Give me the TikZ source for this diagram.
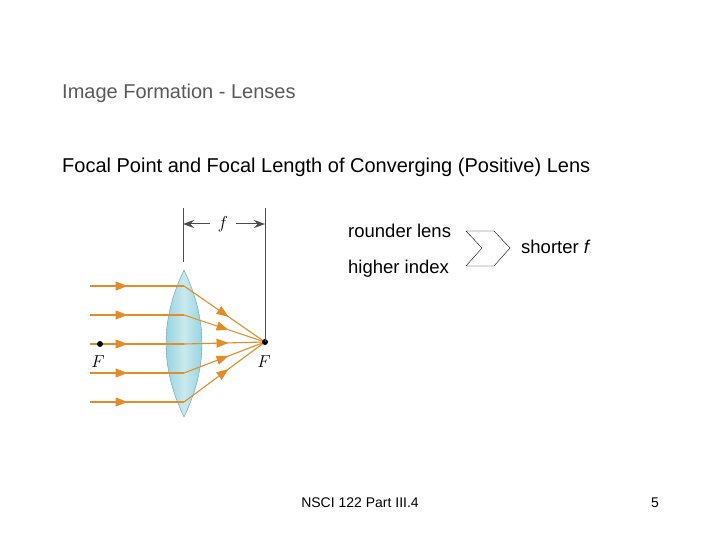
\documentclass[tikz,border=0pt]{standalone}
\usepackage{fontspec}
\setmainfont{Liberation Sans}
\usetikzlibrary{decorations.markings,arrows.meta}
\definecolor{rayorange}{RGB}{228,140,40}
\definecolor{lensblue}{RGB}{120,200,215}
\tikzset{
	ray/.style={rayorange, line width=1.1pt, postaction={decorate},
		decoration={markings, mark=at position #1 with {\arrow{Triangle[length=12pt,width=9pt]}}}},
	ray/.default=0.55,
	label/.style={inner sep=0pt, anchor=base west, font=\fontsize{20}{24}\selectfont},
	dim/.style={black!70, line width=1pt},
}
\begin{document}
\begin{tikzpicture}[x=1pt,y=-1pt]
	\useasboundingbox (0,0) rectangle (720,540);
	\node[label, text=black!65] (title) at (62,99) {Image Formation - Lenses};
	\node[label] (sub) at (62,173) {Focal Point and Focal Length of Converging (Positive) Lens};
	% lens
	\draw[lensblue!80!black, left color=lensblue!90, right color=lensblue!90, middle color=white!60!lensblue]
		(184,270) .. controls (160,320) and (160,367) .. (184,417)
		.. controls (208,367) and (208,320) .. (184,270) -- cycle;
	\coordinate (fr) at (265,342);
	% rays
	\foreach \y in {286,315,344,373,402} {
		\coordinate (in\y) at (90,\y);
		\coordinate (mid\y) at (184,\y);
		\draw[ray=0.4] (in\y) -- (mid\y);
		\draw[ray] (mid\y) -- (fr);
	}
	\fill (fr) circle (3);
	\coordinate (fl) at (100,344);
	\fill (fl) circle (3);
	\node[font=\fontsize{19}{19}\selectfont] (Fl) at (98,362) {$F$};
	\node[font=\fontsize{19}{19}\selectfont] (Fr) at (264,362) {$F$};
	% focal length
	\coordinate (ta) at (183,208);
	\coordinate (tb) at (265,208);
	\draw[dim] (ta) -- (183,262);
	\draw[dim] (tb) -- (fr);
	\node[font=\fontsize{19}{19}\selectfont] (flab) at (223,224) {$f$};
	\draw[dim, -{Stealth[length=11pt,width=8pt]}] (flab.west) ++(-4,0) -- (183,224);
	\draw[dim, -{Stealth[length=11pt,width=8pt]}] (flab.east) ++(4,0) -- (265,224);
	% chevron
	\node[label, font=\fontsize{18.5}{22}\selectfont] (round) at (348,237) {rounder lens};
	\node[label, font=\fontsize{18.5}{22}\selectfont] (index) at (348,273) {higher index};
	\draw (466,231) -- (494,231) -- (510,248) -- (494,266) -- (466,266) -- (482,248) -- cycle;
	\node[label, font=\fontsize{18.5}{22}\selectfont] (short) at (521,254) {shorter \textit{f}};
	% footer
	\node[font=\fontsize{14}{16}\selectfont] (foot) at (360,503) {NSCI 122 Part III.4};
	\node[font=\fontsize{14}{16}\selectfont] (page) at (655,503) {5};
\end{tikzpicture}
\end{document}
